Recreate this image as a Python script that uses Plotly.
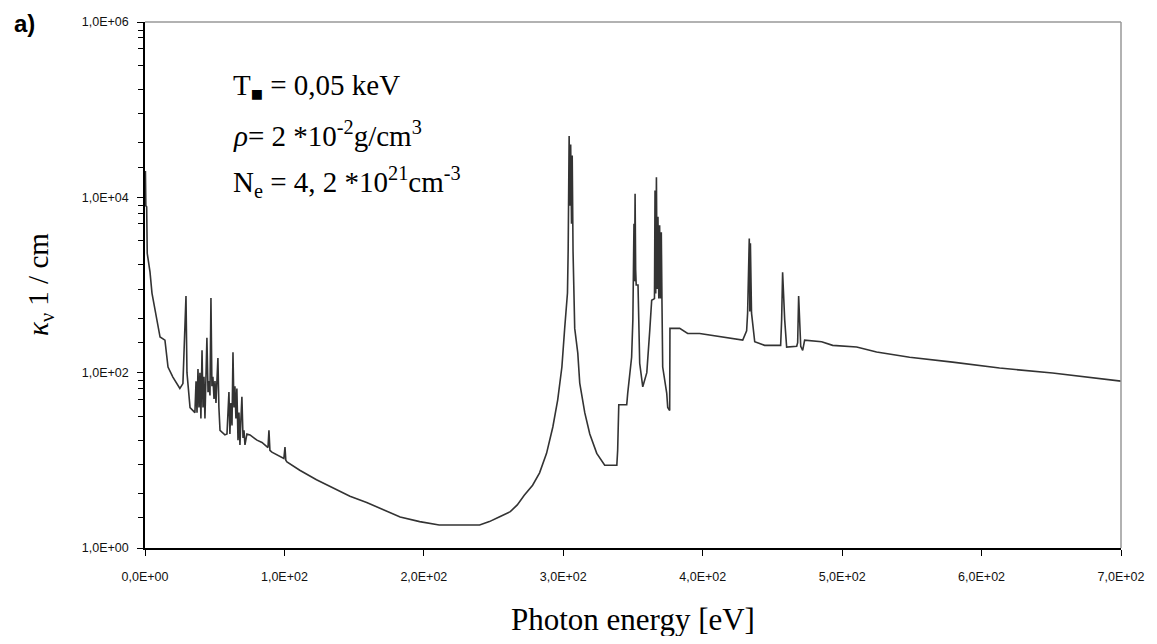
import plotly.graph_objects as go

# Photon energy [eV] and absorption coefficient kappa_nu [1/cm]
energy = [
    0.0, 0.3, 0.6, 1.2, 1.6, 3.6, 5.0, 7.2, 9.3, 10.8, 14.3, 16.5, 20.0, 23.7, 25.0, 27.2,
    28.7, 29.4, 30.1, 31.5, 32.3, 35.8, 36.6, 37.3, 38.0, 38.7, 39.4, 40.1, 40.9, 41.6,
    42.3, 43.0, 44.4, 45.2, 45.9, 46.6, 47.3, 48.0, 48.7, 49.5, 50.2, 50.9, 52.3, 53.0,
    53.8, 57.3, 58.8, 60.2, 60.9, 61.6, 62.4, 63.1, 63.8, 64.5, 65.2, 65.9, 66.7, 67.4,
    68.1, 68.8, 69.5, 70.3, 71.0, 71.7, 73.1, 75.3, 80.3, 83.9, 87.5, 88.2, 88.9, 89.6,
    91.0, 95.3, 99.6, 100.4, 101.0, 101.8,
    111, 123, 135, 147, 159, 171, 183, 197, 211, 240, 247, 254, 262, 267, 272, 278, 283,
    288, 292.5, 296, 299, 301, 303, 303.5, 304.2, 304.8, 305.3, 305.9, 306.4, 307.0,
    308.2, 310.4, 311.8, 315.4, 319, 324, 329.7, 338.4, 339.0, 339.8, 345.5, 346.2, 349.0,
    349.9, 350.3, 350.7, 351.1, 351.5, 351.9, 352.3, 353.6, 354.8, 357.0, 359.9, 362.0,
    363.4, 365.4, 365.8, 366.3, 366.8, 367.3, 367.9, 368.5, 369.1, 369.7, 370.3, 370.8,
    371.3, 374.2, 374.9, 376.3, 376.5, 383.5, 389.2, 397.8, 415.8, 428.7, 431.5, 432.2,
    433.4, 433.8, 434.2, 434.7, 435.0, 437.3, 444.4, 455.9, 456.6, 457.3, 458.8, 460.2,
    467.4, 468.1, 468.8, 470.3, 471.7, 473.1, 485.3, 493.2, 510.4, 524.7, 548.4, 579.2,
    612.9, 650.9, 682.4, 700.0,
]
kappa = [
    9000, 20000, 8000, 7800, 2300, 1400, 810, 520, 350, 255, 235, 116, 89, 72, 66, 75,
    300, 750, 100, 60, 40, 35, 80, 35, 110, 40, 100, 30, 180, 40,
    90, 30, 250, 60, 80, 55, 710, 70, 90, 50, 80, 45, 147, 40,
    22, 19.5, 20, 60, 20, 45, 25, 171, 40, 70, 30, 66, 17, 35,
    15, 30, 53, 18, 22, 15, 20, 19.5, 17, 16, 14, 14, 22, 13,
    12.4, 11.5, 10.5, 14.2, 10, 9.6,
    7.7, 6.0, 4.8, 3.9, 3.3, 2.75, 2.26, 2.0, 1.83, 1.83, 2.0, 2.26, 2.6, 3.1, 4.0, 5.2, 7.2,
    12, 24, 49, 116, 320, 810, 2500, 50000, 8000, 40000, 5000, 30000, 2400,
    320, 167, 76, 35, 20, 12, 8.8, 8.8, 13, 43, 43, 58, 150,
    400, 1000, 5000, 1100, 11000, 1500, 1000, 1000, 128, 69, 100, 300,
    670, 700, 12000, 800, 17000, 900, 6000, 700, 4800, 700, 4000, 600,
    116, 58, 40, 37, 320, 320, 280, 280, 255, 235, 300, 480,
    3400, 500, 3000, 500, 480, 225, 205, 205, 400, 1400, 400, 196,
    200, 220, 750, 200, 180, 235, 225, 205, 196, 172, 150, 132,
    113, 99, 87, 80,
]

x_ticks = [0, 100, 200, 300, 400, 500, 600, 700]
x_labels = ["0,0E+00", "1,0E+02", "2,0E+02", "3,0E+02", "4,0E+02", "5,0E+02", "6,0E+02", "7,0E+02"]
y_ticks = [1, 100, 10000, 1000000]
y_labels = ["1,0E+00", "1,0E+02", "1,0E+04", "1,0E+06"]
minor_mult = [2.2, 4.2, 9, 17, 32, 50, 66, 81]
y_minor = [m * 10 ** e for e in (0, 2, 4) for m in minor_mult]

fig = go.Figure()
fig.add_trace(go.Scatter(x=energy, y=kappa, mode="lines",
                         line=dict(color="#333333", width=1.6), showlegend=False))

tickfont = dict(family="Liberation Sans", size=12.5, color="#111111")
fig.update_layout(
    width=1141, height=628,
    margin=dict(l=137, r=28, t=14, b=88),
    paper_bgcolor="white", plot_bgcolor="white",
    xaxis=dict(range=[0, 700], tickmode="array", tickvals=x_ticks, ticktext=x_labels,
               automargin=False,
               ticks="outside", ticklen=6, tickcolor="black", tickwidth=1,
               showline=True, linecolor="black", linewidth=1.5, mirror=False,
               showgrid=False, zeroline=False, tickfont=tickfont, ticklabelstandoff=10),
    yaxis=dict(type="log", range=[0, 6], tickmode="array", tickvals=y_ticks, ticktext=y_labels,
               automargin=False,
               ticks="outside", ticklen=6, tickcolor="black", tickwidth=1,
               minor=dict(tickmode="array", tickvals=y_minor, ticks="outside", ticklen=5,
                          tickcolor="black", showgrid=False),
               showline=True, linecolor="black", linewidth=1.5,
               showgrid=False, zeroline=False, tickfont=tickfont, ticklabelstandoff=6),
    shapes=[
        dict(type="line", xref="paper", yref="paper", x0=0, x1=1, y0=1, y1=1,
             line=dict(color="#999999", width=1.5)),
        dict(type="line", xref="paper", yref="paper", x0=1, x1=1, y0=0, y1=1,
             line=dict(color="#999999", width=1.5)),
    ],
)

serif = "Liberation Serif"
ann = [
    dict(text="<b>a)</b>", x=0, y=1, xshift=-121, yshift=14, xanchor="center", yanchor="top",
         font=dict(family="Liberation Sans", size=24, color="black")),
    dict(text="Photon energy [eV]", x=0.5, y=0, yshift=-71, xanchor="center", yanchor="middle",
         font=dict(family=serif, size=31, color="black")),
    dict(text="<i>κ</i><sub>ν</sub> 1 / cm", x=0, y=0.5, xshift=-105, xanchor="center",
         yanchor="middle", textangle=-90, font=dict(family=serif, size=29, color="black")),
    dict(text="T<sub>■</sub> = 0,05 keV", x=0, y=1, xshift=86, yshift=-65, xanchor="left",
         yanchor="middle", font=dict(family=serif, size=29, color="black")),
    dict(text="<i>ρ</i>= 2 *10<sup>-2</sup>g/cm<sup>3</sup>", x=0, y=1, xshift=86, yshift=-112,
         xanchor="left", yanchor="middle", font=dict(family=serif, size=29, color="black")),
    dict(text="N<sub>e</sub> = 4, 2 *10<sup>21</sup>cm<sup>-3</sup>", x=0, y=1, xshift=86,
         yshift=-160, xanchor="left", yanchor="middle", font=dict(family=serif, size=29, color="black")),
]
for a in ann:
    a.update(xref="paper", yref="paper", showarrow=False)
    fig.add_annotation(**a)

fig.write_html("out.html")
